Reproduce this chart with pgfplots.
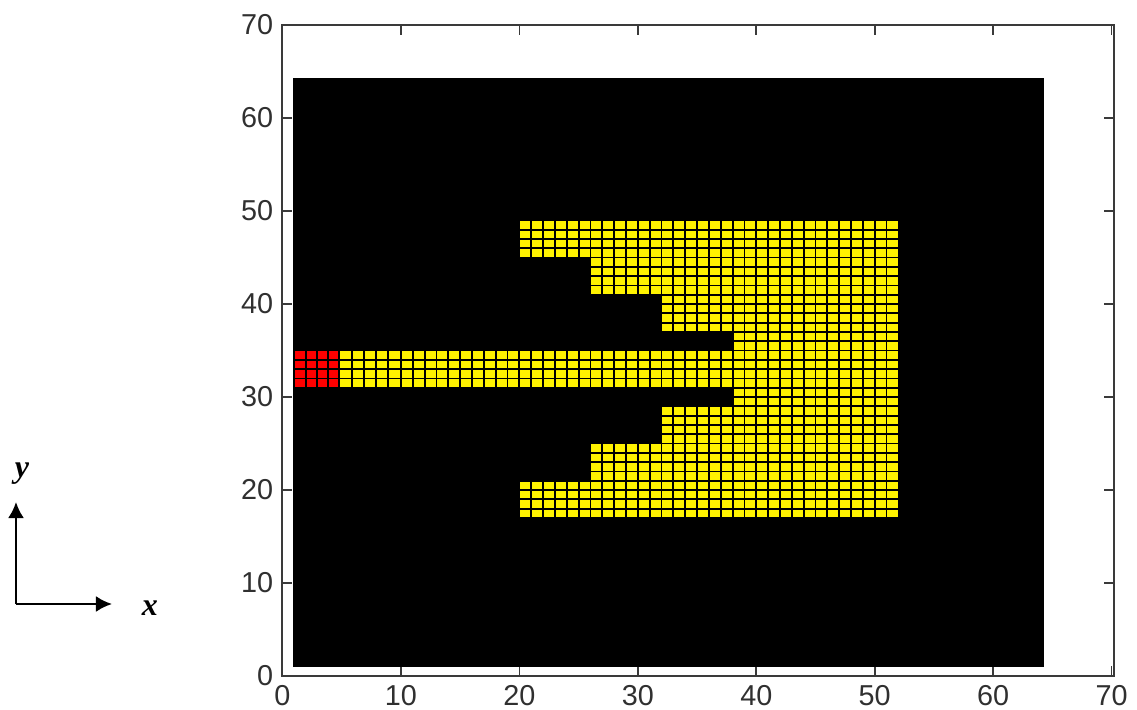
\documentclass[border=0pt]{standalone}
\usepackage{pgfplots}
\pgfplotsset{compat=1.18}
\usetikzlibrary{arrows.meta}
\usepackage{fontspec}
\setmainfont{Liberation Sans}
\newfontfamily\labelfont{Liberation Serif}
\definecolor{axisgray}{HTML}{3A3A3A}
\definecolor{labelgray}{HTML}{303030}
\begin{document}
\begin{tikzpicture}
\path[use as bounding box] (-141.25pt,-16.5pt) rectangle (427.25pt,338pt);
\begin{axis}[
  at={(0pt,0pt)}, anchor=south west,
  scale only axis, width=415.75pt, height=325.5pt,
  xmin=0, xmax=70.2, ymin=0, ymax=70,
  xtick={0,10,20,30,40,50,60,70},
  ytick={0,10,20,30,40,50,60,70},
  tick align=inside, major tick length=5pt,
  axis line style={axisgray, line width=1pt},
  tick style={axisgray, line width=0.8pt},
  /pgf/number format/assume math mode=true,
  tick label style={font=\fontsize{14.4}{16}\selectfont, text=labelgray},
  xticklabel style={inner sep=0pt, yshift=-4.5pt},
  yticklabel style={inner sep=0pt, xshift=-4.5pt},
  unbounded coords=jump,
  every axis plot/.append style={forget plot},
]
% substrate
\addplot[draw=none, fill=black] coordinates {(0.92,1)(64.26,1)(64.26,64.27)(0.92,64.27)} --cycle;
% patch
\addplot[draw=none, fill=yellow] coordinates {(20,17)(52,17)(52,49)(20,49)(20,45)(26,45)(26,41)(32,41)(32,37)(38,37)(38,35)(4.8,35)(4.8,31)(38,31)(38,29)(32,29)(32,25)(26,25)(26,21)(20,21)} --cycle;
% feed port
\addplot[draw=none, fill=red] coordinates {(1,31)(4.8,31)(4.8,35)(1,35)} --cycle;
% mesh lines, horizontal
\addplot[black, line width=0.9pt] coordinates {
(20,17)(52,17)(52,18)(20,18)(20,19)(52,19)(52,20)(20,20)(20,21)(52,21)
(52,22)(26,22)(26,23)(52,23)(52,24)(26,24)(26,25)(52,25)
(52,26)(32,26)(32,27)(52,27)(52,28)(32,28)(32,29)(52,29)
(52,30)(38,30)(52,30)(52,31)(1,31)(1,32)(52,32)(52,33)(1,33)(1,34)(52,34)(52,35)(1,35)(52,35)
(52,36)(38,36)(38,37)(32,37)(52,37)(52,38)(32,38)(32,39)(52,39)(52,40)(32,40)(32,41)(26,41)(52,41)
(52,42)(26,42)(26,43)(52,43)(52,44)(26,44)(26,45)(20,45)(52,45)
(52,46)(20,46)(20,47)(52,47)(52,48)(20,48)(20,49)(52,49)};
% mesh lines, vertical: feed
\addplot[black, line width=0.9pt] coordinates {
(1,31)(1,35)(1.96,35)(1.96,31)(2.93,31)(2.93,35)(3.87,35)(3.87,31)(4.8,31)(4.8,35)(5.9,35)(5.9,31)(6.88,31)(6.88,35)(7.87,35)(7.87,31)(8.94,31)(8.94,35)(10,35)(10,31)
(11,31)(11,35)(12,35)(12,31)(13,31)(13,35)(14,35)(14,31)(15,31)(15,35)(16,35)(16,31)(17,31)(17,35)(18,35)(18,31)(19,31)(19,35)(20,35)(20,31)
(21,31)(21,35)(22,35)(22,31)(23,31)(23,35)(24,35)(24,31)(25,31)(25,35)(26,35)(26,31)(27,31)(27,35)(28,35)(28,31)(29,31)(29,35)(30,35)(30,31)
(31,31)(31,35)(32,35)(32,31)(33,31)(33,35)(34,35)(34,31)(35,31)(35,35)(36,35)(36,31)(37,31)(37,35)};
% mesh lines, vertical: upper arms
\addplot[black, line width=0.9pt] coordinates {
(20,45)(20,49)(21,49)(21,45)(22,45)(22,49)(23,49)(23,45)(24,45)(24,49)(25,49)(25,45)(26,45)(26,41)(26,49)
(27,49)(27,41)(28,41)(28,49)(29,49)(29,41)(30,41)(30,49)(31,49)(31,41)(32,41)(32,37)(32,49)
(33,49)(33,37)(34,37)(34,49)(35,49)(35,37)(36,37)(36,49)(37,49)(37,37)(38,37)};
% mesh lines, vertical: lower arms
\addplot[black, line width=0.9pt] coordinates {
(20,21)(20,17)(21,17)(21,21)(22,21)(22,17)(23,17)(23,21)(24,21)(24,17)(25,17)(25,21)(26,21)(26,25)(26,17)
(27,17)(27,25)(28,25)(28,17)(29,17)(29,25)(30,25)(30,17)(31,17)(31,25)(32,25)(32,29)(32,17)
(33,17)(33,29)(34,29)(34,17)(35,17)(35,29)(36,29)(36,17)(37,17)(37,29)(38,29)};
% mesh lines, vertical: main body
\addplot[black, line width=0.9pt] coordinates {
(38,17)(38,49)(39,49)(39,17)(40,17)(40,49)(41,49)(41,17)(42,17)(42,49)(43,49)(43,17)(44,17)(44,49)
(45,49)(45,17)(46,17)(46,49)(47,49)(47,17)(48,17)(48,49)(49,49)(49,17)(50,17)(50,49)(51,49)(51,17)(52,17)(52,49)};
\end{axis}
% coordinate-system sketch at the left
\draw[black, line width=1.2pt, -{Latex[length=8pt,width=8pt]}] (-133.25pt,36pt) -- (-85.25pt,36pt);
\draw[black, line width=1.2pt, -{Latex[length=8pt,width=8pt]}] (-133.25pt,36pt) -- (-133.25pt,87pt);
\node[inner sep=0pt] at (-66.25pt,33.75pt) {\labelfont\fontsize{16}{18}\selectfont\bfseries\itshape x};
\node[inner sep=0pt] at (-130.25pt,101pt) {\labelfont\fontsize{16}{18}\selectfont\bfseries\itshape y};
\end{tikzpicture}
\end{document}
